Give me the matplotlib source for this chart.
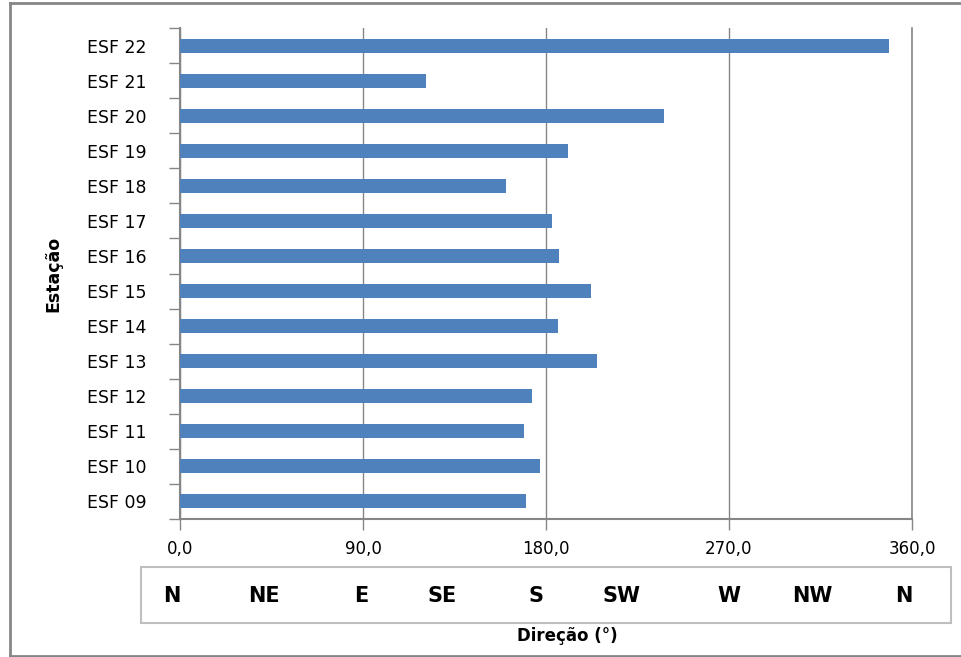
import matplotlib.pyplot as plt
from matplotlib.patches import Rectangle
from matplotlib.lines import Line2D

stations = ["ESF 09", "ESF 10", "ESF 11", "ESF 12", "ESF 13", "ESF 14", "ESF 15",
            "ESF 16", "ESF 17", "ESF 18", "ESF 19", "ESF 20", "ESF 21", "ESF 22"]
direction = [170.2, 177.0, 169.2, 173.1, 205.1, 185.9, 202.1,
             186.4, 183.0, 160.3, 190.8, 238.0, 121.0, 348.7]
x_ticks = [0, 90, 180, 270, 360]
x_tick_labels = ["0,0", "90,0", "180,0", "270,0", "360,0"]
compass = ["N", "NE", "E", "SE", "S", "SW", "W", "NW", "N"]
compass_x = [172, 264, 361, 442, 536, 622, 729, 812, 904]  # pixel centres

W, H = 962, 657
fig = plt.figure(figsize=(W / 100, H / 100), dpi=100)
plt.rcParams['font.family'] = ['DejaVu Sans']

ax = fig.add_axes([180 / W, 1 - 519 / H, 732 / W, 491 / H])
ax.barh(range(len(stations)), direction, height=0.4, color="#4F81BD", zorder=3)

ax.set_xlim(0, 360)
ax.set_ylim(-0.5, len(stations) - 0.5)
ax.set_xticks(x_ticks)
ax.set_xticklabels(x_tick_labels, fontsize=12)
ax.set_yticks(range(len(stations)))
ax.set_yticklabels(stations, fontsize=12.5)
ax.set_yticks([i - 0.5 for i in range(len(stations) + 1)], minor=True)

grey = "#868686"
ax.grid(axis="x", color=grey, linewidth=1, zorder=0)
ax.axvline(360, color=grey, linewidth=1.2, clip_on=False, zorder=0)
ax.tick_params(axis="y", which="major", length=0, pad=24)
ax.tick_params(axis="y", which="minor", length=8, color=grey, width=1)
ax.tick_params(axis="x", length=8, color=grey, width=1, pad=7)
for side in ["top", "right"]:
    ax.spines[side].set_visible(False)
for side in ["left", "bottom"]:
    ax.spines[side].set_color(grey)
    ax.spines[side].set_linewidth(1.5)

ax.set_ylabel("Estação", fontsize=12.5, fontweight="bold")
ax.yaxis.set_label_coords((62 - 180) / 732, 0.5)

# compass box under the axis
box = Rectangle((141 / W, 1 - 623 / H), 810 / W, 56 / H, transform=fig.transFigure,
                facecolor="white", edgecolor="#BFBFBF", linewidth=1.5)
fig.patches.append(box)
for lbl, px in zip(compass, compass_x):
    fig.text(px / W, 1 - 596 / H, lbl, fontsize=15, fontweight="bold",
             ha="center", va="center")

fig.text(567 / W, 1 - 636 / H, "Direção (°)", fontsize=12, fontweight="bold",
         ha="center", va="center")

# outer frame
for xs, ys in [((10 / W, 10 / W), (1 - 3 / H, 1 - 656 / H)),
               ((10 / W, 1), (1 - 3 / H, 1 - 3 / H)),
               ((10 / W, 1), (1 - 656 / H, 1 - 656 / H))]:
    fig.lines.append(Line2D(xs, ys, transform=fig.transFigure, color=grey, linewidth=2))

fig.savefig("out.png", dpi=100)
